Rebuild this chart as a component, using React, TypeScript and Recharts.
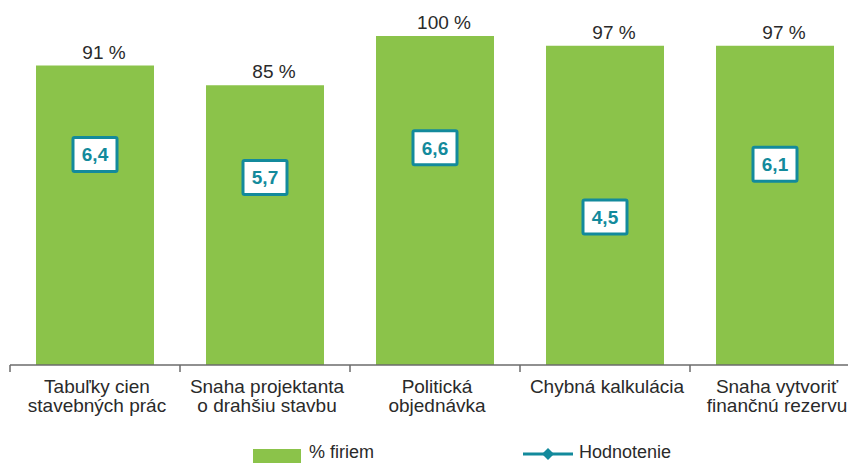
import * as React from 'react';
import {
  ComposedChart,
  Bar,
  Line,
  XAxis,
  YAxis,
  LabelList,
} from 'recharts';

// chart values
const categories = [
  'Tabuľky cien\nstavebných prác',
  'Snaha projektanta\no drahšiu stavbu',
  'Politická\nobjednávka',
  'Chybná kalkulácia',
  'Snaha vytvoriť\nfinančnú rezervu',
];
const firmShare = [91, 85, 100, 97, 97];
const ratings = [6.4, 5.7, 6.6, 4.5, 6.1];
const shareTicks = [0, 100];
const ratingTicks = [0, 10];

const GREEN = '#8bc34a';
const TEAL = '#138a9c';
const TEXT = '#2a2a2a';
const AXIS = '#6b6b6b';
const FONT = '"Liberation Sans", Arial, sans-serif';

const CHART_W = 860;
const CHART_H = 463;
const LEFT = 10;
const BAND = (CHART_W - LEFT) / categories.length;

const data = categories.map((name, i) => ({
  name,
  share: firmShare[i],
  rating: ratings[i],
}));

function CategoryTick(props: any) {
  const { x, y, payload } = props;
  const lines = String(payload.value).split('\n');
  return (
    <g>
      <line x1={x - BAND / 2} x2={x - BAND / 2} y1={y} y2={y + 7} stroke={AXIS} strokeWidth={1.5} />
      <text x={x + 2} y={y + 28} textAnchor="middle" fill={TEXT} fontSize={19} fontFamily={FONT}>
        {lines.map((l, i) => (
          <tspan key={i} x={x + 2} dy={i === 0 ? 0 : 19}>
            {l}
          </tspan>
        ))}
      </text>
    </g>
  );
}

function ShareLabel(props: any) {
  const { x, y, width, value } = props;
  return (
    <text
      x={Number(x) + Number(width) / 2 + 9}
      y={Number(y) - 7}
      textAnchor="middle"
      fill={TEXT}
      fontSize={19}
      fontFamily={FONT}
    >
      {`${value} %`}
    </text>
  );
}

function RatingBox(props: any) {
  const { cx, cy, value, index } = props;
  if (cx == null || cy == null) return <g key={`rb-${index}`} />;
  const w = 44;
  const h = 34;
  return (
    <g key={`rb-${index}`}>
      <rect x={cx - w / 2} y={cy - h / 2} width={w} height={h} rx={1.5} fill="#fff" stroke={TEAL} strokeWidth={3} />
      <text x={cx} y={cy + 7} textAnchor="middle" fill={TEAL} fontSize={19} fontWeight="bold" fontFamily={FONT}>
        {Number(value).toFixed(1).replace('.', ',')}
      </text>
    </g>
  );
}

function ChartLegend() {
  return (
    <div
      style={{
        position: 'absolute',
        left: 0,
        top: 442,
        width: 848,
        height: 21,
        fontFamily: FONT,
        fontSize: 18,
        color: TEXT,
      }}
    >
      <span style={{ position: 'absolute', left: 253, top: 7, width: 48, height: 14, background: GREEN }} />
      <span style={{ position: 'absolute', left: 309, top: 0, whiteSpace: 'nowrap' }}>% firiem</span>
      <svg style={{ position: 'absolute', left: 522, top: 5 }} width={52} height={14}>
        <line x1={1} x2={51} y1={7} y2={7} stroke={TEAL} strokeWidth={3} />
        <path d="M26 1 L32 7 L26 13 L20 7 Z" fill={TEAL} />
      </svg>
      <span style={{ position: 'absolute', left: 579, top: 0, whiteSpace: 'nowrap' }}>Hodnotenie</span>
    </div>
  );
}

export default function App() {
  return (
    <div
      style={{
        position: 'fixed',
        left: 0,
        top: 0,
        width: 848,
        height: 463,
        overflow: 'hidden',
        background: '#fff',
      }}
    >
      <ComposedChart
        width={CHART_W}
        height={CHART_H}
        data={data}
        margin={{ top: 36, right: 0, left: LEFT, bottom: 0 }}
        barCategoryGap={0}
      >
        <XAxis
          dataKey="name"
          height={98}
          interval={0}
          tickLine={false}
          tickSize={0}
          tickMargin={0}
          axisLine={{ stroke: AXIS, strokeWidth: 1.5 }}
          tick={<CategoryTick />}
        />
        <YAxis
          yAxisId="left"
          domain={[0, 100]}
          ticks={shareTicks}
          width={0}
          tick={false}
          tickLine={false}
          axisLine={{ stroke: AXIS, strokeWidth: 1.5 }}
        />
        <YAxis yAxisId="right" orientation="right" domain={[0, 10]} ticks={ratingTicks} hide />
        <Bar yAxisId="left" dataKey="share" fill={GREEN} barSize={118} isAnimationActive={false}>
          <LabelList dataKey="share" content={<ShareLabel />} />
        </Bar>
        <Line
          yAxisId="right"
          dataKey="rating"
          stroke="none"
          dot={RatingBox}
          activeDot={false}
          legendType="none"
          isAnimationActive={false}
        />
      </ComposedChart>
      <ChartLegend />
    </div>
  );
}
